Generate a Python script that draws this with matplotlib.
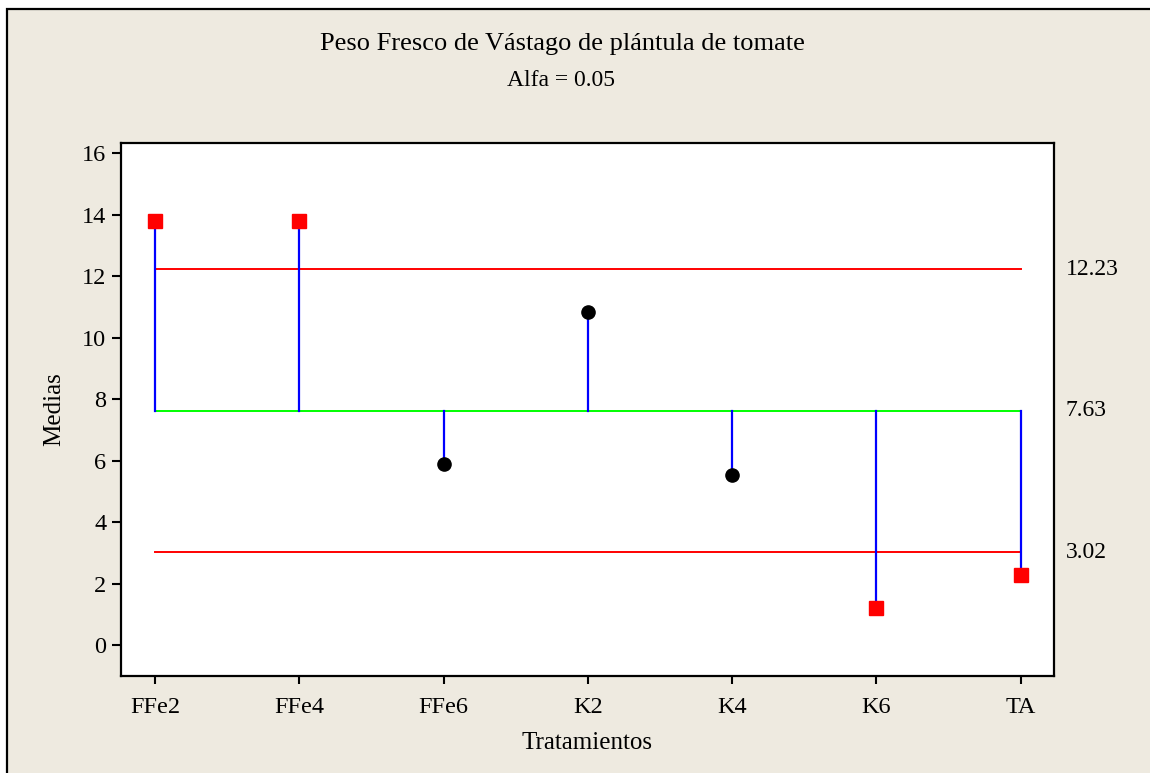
import numpy as np
import matplotlib.pyplot as plt
from matplotlib.patches import Rectangle

# Analisis de medias (ANOM), peso fresco de vastago
tratamientos = ['FFe2', 'FFe4', 'FFe6', 'K2', 'K4', 'K6', 'TA']
medias = [13.8, 13.8, 5.9, 10.85, 5.55, 1.2, 2.3]
linea_central = 7.63
lds = 12.23   # limite de decision superior
ldi = 3.02    # limite de decision inferior

plt.rcParams['font.family'] = ['Liberation Serif', 'DejaVu Serif']

bg = '#EEEAE0'
W, H = 1150, 773
fig = plt.figure(figsize=(W/100, H/100), dpi=100, facecolor='white')
# fondo con marco (solo se ven los bordes izquierdo y superior)
fig.patches.append(Rectangle((7/W, -0.1), 1.2, 1.1 - 9.5/H, transform=fig.transFigure,
                             facecolor=bg, edgecolor='black', linewidth=1.6, zorder=-10))

ax = fig.add_axes([121/W, 1 - 676/H, (1054-121)/W, (676-143)/H])
ax.set_facecolor('white')

x = np.arange(len(tratamientos))
ax.plot([x[0], x[-1]], [lds, lds], color='red', lw=1.4, zorder=2)
ax.plot([x[0], x[-1]], [ldi, ldi], color='red', lw=1.4, zorder=2)
ax.plot([x[0], x[-1]], [linea_central, linea_central], color='#00ff00', lw=1.4, zorder=2)

for xi, m in zip(x, medias):
    ax.plot([xi, xi], [linea_central, m], color='blue', lw=1.6, zorder=3)
    if m > lds or m < ldi:
        ax.plot(xi, m, marker='s', color='red', markersize=10.5, zorder=4)
    else:
        ax.plot(xi, m, marker='o', color='black', markersize=9.5, zorder=4)

for v in [lds, linea_central, ldi]:
    ax.text(1.0125, v, '%.2f' % v, transform=ax.get_yaxis_transform(),
            ha='left', va='center', fontsize=17)

ax.set_xlim(-0.235, 6.23)
ax.set_ylim(-1.0, 16.33)
ax.set_xticks(x)
ax.set_xticklabels(tratamientos)
ax.set_yticks(np.arange(0, 17, 2))
ax.tick_params(axis='both', direction='out', length=6.5, width=1.5, labelsize=17.5)
ax.tick_params(axis='y', pad=4)
ax.tick_params(axis='x', length=6, pad=9)
for s in ax.spines.values():
    s.set_linewidth(1.6)

ax.set_xlabel('Tratamientos', fontsize=18, labelpad=10)
ax.set_ylabel('Medias', fontsize=18, labelpad=12)

fig.text(562/W, 1 - 44/H, 'Peso Fresco de Vástago de plántula de tomate',
         ha='center', va='center', fontsize=19)
fig.text(561/W, 1 - 81/H, 'Alfa = 0.05', ha='center', va='center', fontsize=17)

fig.savefig('out.png', dpi=100, facecolor='white')
